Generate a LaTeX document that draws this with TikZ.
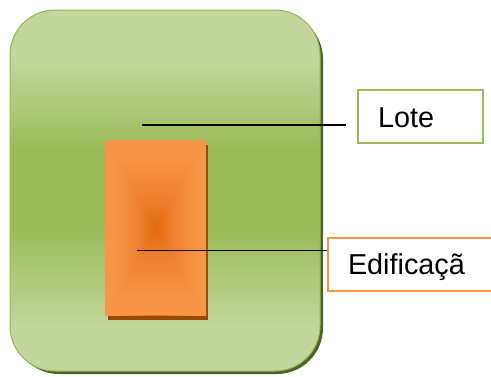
\documentclass[tikz,border=0pt]{standalone}
\usepackage{fontspec}
\setmainfont{Liberation Sans}
\definecolor{glight}{HTML}{C3D69B}
\definecolor{gmid}{HTML}{9BBB59}
\definecolor{gborder}{HTML}{93B853}
\definecolor{gshadow}{HTML}{4F6228}
\definecolor{olight}{HTML}{F79646}
\definecolor{odark}{HTML}{E26B0A}
\definecolor{omix}{HTML}{EE8232}
\definecolor{oshadow}{HTML}{984807}
\pgfdeclareverticalshading{lotshade}{100bp}{color(0bp)=(glight); color(25bp)=(glight);
  color(31bp)=(glight); color(45bp)=(gmid); color(55.5bp)=(gmid); color(68bp)=(glight);
  color(75bp)=(glight); color(100bp)=(glight)}
\pgfdeclarehorizontalshading{orangeh}{100bp}{color(0bp)=(olight); color(25bp)=(olight);
  color(30bp)=(olight); color(41bp)=(omix); color(50bp)=(odark); color(59bp)=(omix);
  color(70bp)=(olight); color(75bp)=(olight); color(100bp)=(olight)}
\pgfdeclareverticalshading{orangetop}{100bp}{color(0bp)=(odark); color(25bp)=(odark);
  color(43bp)=(omix); color(65bp)=(olight); color(75bp)=(olight); color(100bp)=(olight)}
\pgfdeclareverticalshading{orangebot}{100bp}{color(0bp)=(olight); color(25bp)=(olight);
  color(35bp)=(olight); color(57bp)=(omix); color(75bp)=(odark); color(100bp)=(odark)}
\tikzset{
  labelbox/.style={draw, line width=2pt, fill=white, minimum height=53pt,
    inner xsep=20pt, inner ysep=0pt, anchor=west, align=left,
    text height=21pt, text depth=0pt,
    font=\fontsize{28.8}{34}\selectfont},
  leader/.style={line width=1.2pt, black}
}
\begin{document}
\begin{tikzpicture}[x=1pt,y=-1pt]
\useasboundingbox (0,0) rectangle (491,376);
\clip (0,0) rectangle (491,376);
% lot (green rounded square)
\fill[gshadow, rounded corners=46pt] (13,13) rectangle (323,374);
\shade[shading=lotshade, rounded corners=45pt] (10,10) rectangle (320,371);
\draw[gborder, line width=1pt, rounded corners=45pt] (10,10) rectangle (320,371);
% building (orange rectangle)
\fill[oshadow] (108,145) rectangle (208,320);
\coordinate (bc) at (155.5,227.5);
\shade[shading=orangeh] (105,140) rectangle (206,315);
\shade[shading=orangetop] (105,140) -- (206,140) -- (bc) -- cycle;
\shade[shading=orangebot] (105,315) -- (206,315) -- (bc) -- cycle;
% label boxes
\node[labelbox, draw=gmid, minimum width=125pt, text width=85pt] (lote) at (357,116.5) {Lote};
\node[labelbox, draw=olight, minimum width=190pt, text width=150pt] (edif) at (327,264) {Edificaçã};
% leader lines
\coordinate (lotep) at (142,125);
\coordinate (edifp) at (137,250.5);
\draw[leader] (lotep) -- ([xshift=-11pt,yshift=-8.5pt]lote.west);
\draw[leader] (edifp) -- ([yshift=13.5pt]edif.west);
\end{tikzpicture}
\end{document}
